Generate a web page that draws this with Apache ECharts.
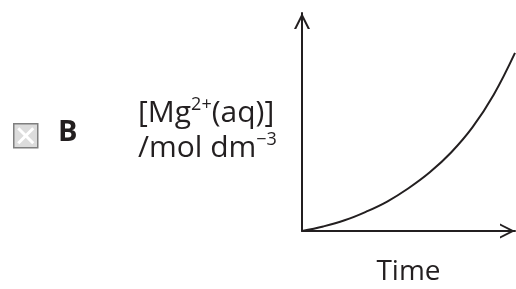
<!DOCTYPE html>
<html>
<head>
<meta charset="utf-8">
<script src="https://cdn.jsdelivr.net/npm/echarts@6/dist/echarts.min.js"></script>
<style>
html,body{margin:0;padding:0;background:#fff;}
#c{width:516px;height:289px;}
</style>
</head>
<body>
<div id="c"></div>
<script>
// Time (arbitrary units) and concentration values
const timeValues = [0, 1, 2, 3, 4, 5, 6, 7, 8, 9, 10];
const concValues = [0, 0.21, 0.49, 0.88, 1.35, 1.96, 2.69, 3.60, 4.75, 6.25, 8.17];
const xName = 'Time';
const yNameLine1 = ['[Mg', '2+', '(aq)]'];
const yNameLine2 = ['/mol dm', '\u22123'];
const optionLetter = 'B';

const ink = '#231f20';
const chevron = 'path://M5,0 L10,10 L8.6,10 L5,2.8 L1.4,10 L0,10 Z';
const font = '"Open Sans", sans-serif';

const chart = echarts.init(document.getElementById('c'), null, {renderer: 'canvas'});
const option = {
  backgroundColor: '#fff',
  animation: false,
  grid: {left: 302, top: 13, right: 1, bottom: 58, containLabel: false, outerBoundsMode: 'none'},
  xAxis: {
    type: 'value', min: 0, max: 10,
    name: xName, nameLocation: 'middle', nameGap: 27,
    nameTextStyle: {fontFamily: font, fontSize: 28, color: ink},
    axisLine: {show: true, onZero: false, lineStyle: {color: ink, width: 2},
      symbol: ['none', chevron], symbolSize: [15, 15], symbolOffset: [0, -7.5]},
    axisTick: {show: false}, axisLabel: {show: false}, splitLine: {show: false}
  },
  yAxis: {
    type: 'value', min: 0, max: 10,
    name: '{a|' + yNameLine1[0] + '}{s|' + yNameLine1[1] + '}{a|' + yNameLine1[2] + '}\n{a|' + yNameLine2[0] + '}{s|' + yNameLine2[1] + '}',
    nameLocation: 'middle', nameRotate: 0, nameGap: 164,
    nameTextStyle: {
      align: 'left', verticalAlign: 'middle', padding: [18, 0, 0, 0],
      fontFamily: font, fontSize: 30, color: ink,
      rich: {
        a: {fontFamily: font, fontSize: 30, color: ink, lineHeight: 35},
        s: {fontFamily: font, fontSize: 18, color: ink, lineHeight: 35, verticalAlign: 'top'}
      }
    },
    axisLine: {show: true, onZero: false, lineStyle: {color: ink, width: 2},
      symbol: ['none', chevron], symbolSize: [16, 16], symbolOffset: [0, -8]},
    axisTick: {show: false}, axisLabel: {show: false}, splitLine: {show: false}
  },
  series: [{
    type: 'line',
    data: timeValues.map((t, i) => [t, concValues[i]]),
    smooth: 0.4,
    showSymbol: false, symbol: 'none',
    lineStyle: {color: ink, width: 2},
    clip: false
  }],
  graphic: [
    {type: 'group', left: 13, top: 123, children: [
      {type: 'rect', shape: {x: 0.5, y: 0.5, width: 24, height: 24}, style: {fill: '#dcdcdc', stroke: '#7f7f7f', lineWidth: 1.5}},
      {type: 'line', shape: {x1: 5, y1: 5, x2: 20, y2: 20}, style: {stroke: '#fff', lineWidth: 3}},
      {type: 'line', shape: {x1: 20, y1: 5, x2: 5, y2: 20}, style: {stroke: '#fff', lineWidth: 3}}
    ]},
    {type: 'text', left: 58, top: 118, style: {text: optionLetter, fontFamily: font, fontWeight: 'bold', fontSize: 29, fill: ink}}
  ]
};
chart.setOption(option);
</script>
</body>
</html>
